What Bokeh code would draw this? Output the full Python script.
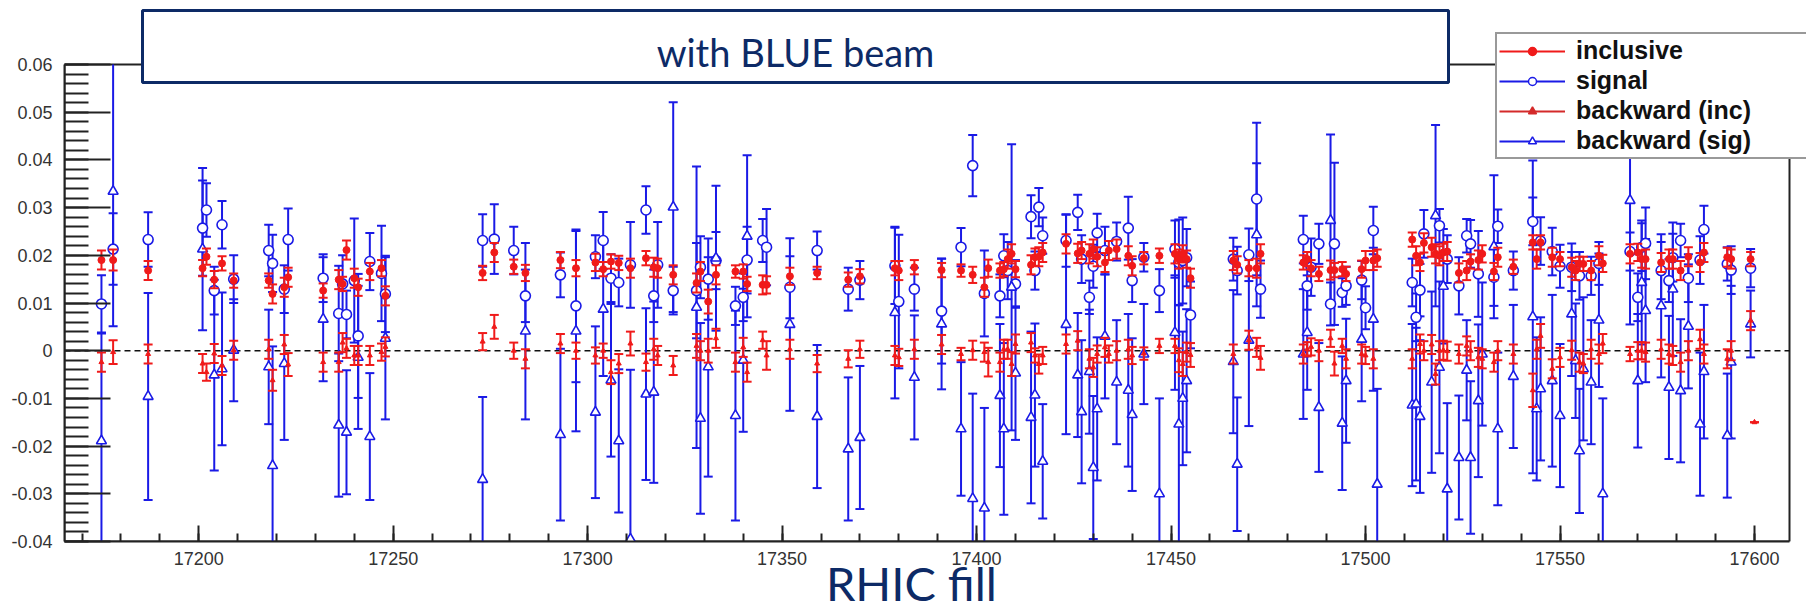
from bokeh.plotting import figure
from bokeh.models import (Range1d, FixedTicker, CustomJSTickFormatter, BoxAnnotation,
                          Label, Legend, LegendItem, ColumnDataSource)
from bokeh.embed import file_html
from bokeh.resources import INLINE

# ---------------- data ----------------
incl_fill = [17175,17178,17187,17201,17202,17204,17206,17209,17218,17219,17222,17223,17232,17236,17237,17238,17240,17241,17244,17247,
             17248,17273,17276,17281,17284,17293,17297,17302,17304,17306,17308,17311,17315,17317,17318,17322,17328,17329,17331,17333,
             17338,17340,17341,17345,17346,17352,17359,17367,17370,17379,17380,17384,17391,17396,17399,17402,17403,17406,17407,17408,
             17409,17410,17414,17415,17416,17417,17423,17426,17427,17429,17430,17431,17433,17434,17436,17439,17440,17443,17447,17451,
             17452,17453,17454,17455,17466,17467,17470,17472,17473,17484,17485,17486,17488,17491,17492,17494,17495,17499,17500,17502,
             17503,17512,17513,17514,17515,17517,17518,17519,17520,17521,17524,17526,17527,17529,17530,17533,17534,17538,17543,17544,
             17545,17548,17550,17553,17554,17555,17556,17558,17560,17561,17568,17570,17571,17572,17576,17578,17579,17581,17583,17586,
             17587,17593,17594,17599]
incl_val = [.0190,.0190,.0168,.0173,.0197,.0149,.0183,.0147,.0147,.0119,.0133,.0154,.0126,.0149,.0140,.0211,.0152,.0133,.0166,.0173,
            .0115,.0163,.0206,.0176,.0163,.0190,.0173,.0185,.0171,.0187,.0184,.0173,.0194,.0175,.0173,.0159,.0142,.0166,.0103,.0159,
            .0166,.0166,.0140,.0138,.0138,.0156,.0163,.0149,.0156,.0173,.0168,.0175,.0169,.0168,.0159,.0133,.0173,.0168,.0171,.0192,
            .0203,.0171,.0180,.0196,.0197,.0206,.0224,.0204,.0210,.0203,.0213,.0197,.0185,.0210,.0213,.0199,.0178,.0194,.0199,.0203,
            .0192,.0203,.0192,.0152,.0189,.0180,.0173,.0173,.0203,.0185,.0192,.0173,.0161,.0169,.0169,.0171,.0161,.0171,.0189,.0189,
            .0194,.0233,.0199,.0185,.0226,.0217,.0203,.0199,.0206,.0208,.0163,.0168,.0187,.0190,.0203,.0166,.0196,.0176,.0227,.0192,
            .0227,.0196,.0192,.0175,.0168,.0182,.0182,.0168,.0199,.0183,.0203,.0206,.0192,.0192,.0185,.0192,.0192,.0168,.0197,.0185,
            .0206,.0196,.0192,.0192]
incl_err = [.0020,.0022,.0020,.0017,.0017,.0018,.0015,.0015,.0015,.0020,.0020,.0020,.0015,.0020,.0015,.0020,.0020,.0018,.0018,.0017,
            .0020,.0015,.0020,.0015,.0017,.0017,.0017,.0018,.0015,.0015,.0015,.0020,.0015,.0020,.0020,.0020,.0020,.0020,.0025,.0020,
            .0013,.0015,.0015,.0020,.0018,.0018,.0013,.0015,.0015,.0015,.0020,.0015,.0015,.0013,.0017,.0020,.0018,.0015,.0015,.0020,
            .0020,.0017,.0020,.0018,.0020,.0020,.0020,.0020,.0018,.0020,.0020,.0020,.0020,.0020,.0020,.0020,.0020,.0013,.0015,.0020,
            .0020,.0018,.0018,.0020,.0020,.0018,.0017,.0020,.0020,.0015,.0015,.0017,.0015,.0020,.0015,.0015,.0015,.0018,.0020,.0020,
            .0018,.0015,.0020,.0018,.0020,.0020,.0020,.0020,.0018,.0020,.0020,.0020,.0015,.0020,.0018,.0018,.0020,.0015,.0015,.0020,
            .0015,.0020,.0015,.0020,.0020,.0015,.0015,.0020,.0020,.0018,.0020,.0018,.0018,.0020,.0020,.0020,.0020,.0020,.0020,.0020,
            .0020,.0020,.0020,.0015]

sig_fill = [17175,17178,17187,17201,17202,17204,17206,17209,17218,17219,17222,17223,17232,17236,17237,17238,17240,17241,17244,17247,
            17248,17273,17276,17281,17284,17293,17297,17302,17304,17306,17308,17311,17315,17317,17318,17322,17328,17329,17331,17333,
            17338,17340,17341,17345,17346,17352,17359,17367,17370,17379,17380,17384,17391,17396,17399,17402,17406,17407,17408,17410,
            17414,17415,17416,17417,17423,17426,17427,17429,17430,17431,17433,17436,17439,17440,17443,17447,17451,17452,17453,17454,
            17455,17466,17467,17470,17472,17473,17484,17485,17486,17488,17491,17492,17494,17495,17499,17500,17502,17512,17513,17514,
            17515,17519,17521,17524,17526,17527,17529,17533,17534,17538,17543,17545,17548,17550,17553,17555,17558,17560,17568,17570,
            17571,17572,17576,17578,17579,17581,17583,17586,17587,17593,17594,17599]
sig_val = [.0098,.0213,.0233,.0257,.0295,.0126,.0264,.0150,.0210,.0183,.0129,.0233,.0152,.0078,.0140,.0076,.0147,.0031,.0187,.0162,
           .0119,.0231,.0234,.0210,.0115,.0159,.0094,.0197,.0231,.0152,.0143,.0180,.0295,.0115,.0180,.0126,.0126,.0175,.0150,.0189,
           .0094,.0112,.0190,.0231,.0217,.0133,.0210,.0129,.0148,.0178,.0103,.0129,.0083,.0217,.0388,.0120,.0115,.0199,.0168,.0140,
           .0281,.0168,.0301,.0241,.0231,.0290,.0192,.0112,.0177,.0247,.0210,.0229,.0257,.0147,.0196,.0126,.0213,.0185,.0189,.0195,
           .0075,.0192,.0168,.0201,.0318,.0129,.0233,.0136,.0175,.0224,.0098,.0224,.0122,.0136,.0148,.0090,.0252,.0143,.0070,.0127,
           .0245,.0262,.0192,.0136,.0241,.0224,.0161,.0154,.0261,.0168,.0271,.0230,.0208,.0177,.0175,.0157,.0157,.0183,.0208,.0112,
           .0217,.0225,.0168,.0147,.0195,.0231,.0152,.0190,.0254,.0182,.0169,.0173]
sig_err = [.0060,.0075,.0057,.0100,.0056,.0050,.0050,.0050,.0054,.0060,.0050,.0065,.0050,.0100,.0060,.0050,.0130,.0130,.0060,.0100,
           .0080,.0055,.0073,.0050,.0055,.0047,.0160,.0045,.0060,.0050,.0050,.0090,.0050,.0055,.0090,.0050,.0100,.0065,.0085,.0060,
           .0040,.0050,.0070,.0045,.0080,.0065,.0040,.0045,.0040,.0080,.0140,.0045,.0110,.0040,.0064,.0090,.0045,.0045,.0060,.0050,
           .0045,.0040,.0040,.0038,.0055,.0037,.0050,.0035,.0045,.0040,.0050,.0040,.0066,.0045,.0030,.0045,.0060,.0090,.0090,.0060,
           .0070,.0045,.0050,.0055,.0160,.0060,.0050,.0050,.0060,.0042,.0045,.0170,.0030,.0040,.0040,.0045,.0050,.0050,.0050,.0055,
           .0050,.0035,.0050,.0060,.0035,.0050,.0090,.0060,.0035,.0040,.0050,.0050,.0050,.0045,.0050,.0050,.0040,.0045,.0040,.0050,
           .0050,.0075,.0060,.0045,.0050,.0035,.0050,.0050,.0050,.0035,.0050,.0040]

binc_fill = [17175,17178,17187,17201,17202,17204,17206,17209,17218,17219,17222,17223,17232,17236,17237,17238,17240,17241,17244,17247,
             17248,17273,17276,17281,17284,17293,17297,17302,17304,17306,17308,17311,17315,17317,17318,17322,17328,17329,17331,17333,
             17338,17340,17341,17345,17346,17352,17359,17367,17370,17379,17380,17384,17391,17396,17399,17402,17403,17406,17407,17408,
             17409,17410,17414,17415,17416,17417,17423,17426,17429,17430,17431,17433,17434,17436,17439,17440,17443,17447,17451,17452,
             17453,17454,17455,17466,17470,17472,17473,17484,17485,17486,17488,17491,17492,17494,17495,17499,17500,17502,17512,17514,
             17515,17517,17518,17519,17520,17521,17524,17526,17527,17529,17530,17533,17534,17538,17543,17544,17545,17548,17550,17553,
             17555,17556,17558,17560,17561,17568,17570,17571,17572,17576,17578,17579,17581,17583,17586,17587,17593,17594,17599,17600]
binc_val = [-.0024,-.0003,-.0007,-.0027,-.0045,-.0006,-.0031,.0001,.0003,-.0062,.0013,-.0029,-.0024,-.0024,.0017,.0005,-.0010,-.0010,-.0010,-.0003,
            .0008,.0019,.0050,.0000,-.0017,.0015,.0000,-.0010,.0000,-.0045,-.0027,.0015,-.0024,.0003,-.0010,-.0031,.0010,.0000,.0000,.0026,
            -.0024,.0007,-.0045,.0022,-.0010,.0003,-.0027,-.0017,.0003,-.0010,-.0014,.0003,.0013,-.0007,.0001,-.0003,-.0024,-.0024,.0003,.0003,
            -.0028,.0014,.0017,-.0010,-.0028,-.0010,.0014,.0021,-.0017,-.0035,-.0007,.0007,-.0007,.0000,.0003,-.0010,-.0006,.0010,.0010,-.0020,
            -.0028,-.0003,-.0009,-.0007,.0022,.0007,-.0015,-.0007,.0003,.0008,.0000,.0026,-.0027,.0010,-.0017,-.0007,-.0010,-.0017,-.0017,.0014,
            .0000,.0013,-.0049,.0000,.0001,-.0001,-.0007,.0010,.0000,-.0014,-.0017,-.0024,.0000,-.0007,-.0083,.0003,.0031,-.0038,-.0014,.0001,
            -.0024,-.0027,.0003,-.0007,.0015,-.0007,.0000,.0000,-.0003,.0003,-.0007,-.0010,-.0024,.0000,.0024,-.0007,-.0017,.0000,.0063,-.0150]
binc_err = [.0020,.0025,.0020,.0020,.0018,.0020,.0020,.0020,.0020,.0022,.0020,.0024,.0020,.0020,.0020,.0020,.0020,.0020,.0020,.0018,
            .0020,.0018,.0025,.0017,.0020,.0020,.0017,.0017,.0015,.0025,.0020,.0025,.0018,.0022,.0020,.0020,.0025,.0020,.0025,.0020,
            .0020,.0020,.0020,.0018,.0030,.0020,.0018,.0018,.0018,.0020,.0018,.0020,.0020,.0013,.0020,.0020,.0030,.0020,.0020,.0020,
            .0025,.0020,.0020,.0015,.0020,.0018,.0020,.0020,.0020,.0020,.0018,.0020,.0018,.0020,.0020,.0018,.0013,.0015,.0015,.0025,
            .0025,.0020,.0025,.0020,.0020,.0020,.0025,.0020,.0015,.0018,.0022,.0018,.0025,.0015,.0020,.0020,.0018,.0020,.0020,.0020,
            .0020,.0020,.0022,.0020,.0020,.0020,.0020,.0020,.0020,.0020,.0020,.0020,.0020,.0020,.0035,.0020,.0025,.0020,.0020,.0020,
            .0020,.0020,.0020,.0020,.0020,.0015,.0018,.0018,.0020,.0020,.0020,.0020,.0020,.0020,.0020,.0020,.0020,.0020,.0020,.0000]

bsig_fill = [17175,17178,17187,17201,17204,17206,17209,17218,17219,17222,17232,17236,17238,17241,17244,17248,17273,17284,17293,17297,
             17302,17304,17306,17308,17311,17315,17317,17322,17328,17329,17331,17333,17338,17340,17341,17352,17359,17367,17370,17379,
             17384,17391,17396,17399,17402,17406,17407,17409,17410,17414,17415,17417,17423,17426,17427,17429,17430,17431,17433,17436,
             17439,17440,17443,17447,17451,17452,17453,17454,17466,17467,17470,17472,17484,17485,17488,17491,17494,17495,17499,17502,
             17503,17512,17513,17514,17517,17518,17519,17520,17521,17524,17526,17527,17529,17530,17533,17534,17538,17543,17544,17545,
             17548,17550,17553,17554,17555,17556,17558,17560,17561,17568,17570,17571,17572,17576,17578,17579,17581,17583,17586,17587,
             17593,17594,17599]
bsig_val = [-.0189,.0334,-.0096,.0213,-.0051,-.0038,.0001,-.0034,-.0241,-.0027,.0066,-.0156,-.0171,-.0014,-.0180,.0026,-.0270,.0041,-.0176,.0041,
            -.0129,.0087,-.0062,-.0189,-.0395,-.0091,-.0087,.0301,.0091,-.0142,-.0034,.0194,-.0136,-.0020,.0240,.0055,-.0138,-.0206,-.0182,.0080,
            -.0056,.0056,-.0164,-.0310,-.0330,-.0094,-.0164,.0133,-.0047,-.0140,-.0093,-.0232,.0055,-.0051,-.0128,-.0044,-.0245,-.0122,.0030,-.0066,
            -.0083,-.0134,-.0007,-.0300,.0038,-.0154,-.0100,-.0063,-.0023,-.0238,.0022,.0243,-.0007,.0038,-.0119,.0273,-.0152,-.0063,.0024,.0066,
            -.0280,-.0114,-.0112,-.0138,-.0066,.0283,-.0035,.0135,-.0290,-.0224,-.0041,-.0224,-.0105,-.0007,.0218,-.0164,-.0054,.0071,-.0122,-.0080,
            -.0063,-.0136,.0077,-.0021,-.0210,-.0038,-.0066,.0064,-.0300,.0315,-.0063,.0143,.0084,.0094,-.0077,.0129,-.0084,.0051,-.0154,-.0044,
            -.0178,-.0024,.0056]
bsig_err = [.0225,.0283,.0217,.0170,.0200,.0160,.0107,.0120,.0250,.0160,.0130,.0150,.0130,.0150,.0133,.0170,.0173,.0185,.0180,.0210,
            .0180,.0140,.0160,.0150,.0355,.0180,.0190,.0220,.0295,.0200,.0230,.0152,.0220,.0150,.0170,.0181,.0150,.0150,.0150,.0180,
            .0130,.0137,.0140,.0220,.0210,.0150,.0180,.0300,.0140,.0180,.0150,.0120,.0230,.0130,.0150,.0130,.0150,.0150,.0130,.0130,
            .0160,.0160,.0105,.0200,.0120,.0250,.0140,.0150,.0150,.0140,.0180,.0150,.0136,.0120,.0135,.0180,.0140,.0130,.0130,.0150,
            .0200,.0170,.0160,.0160,.0190,.0190,.0180,.0120,.0180,.0130,.0105,.0160,.0160,.0150,.0150,.0160,.0150,.0328,.0150,.0150,
            .0180,.0150,.0130,.0120,.0130,.0150,.0130,.0140,.0200,.0260,.0140,.0130,.0150,.0150,.0150,.0140,.0150,.0130,.0150,.0140,
            .0130,.0160,.0070]

x_ticks = [17200, 17250, 17300, 17350, 17400, 17450, 17500, 17550, 17600]
y_ticks = [-0.04, -0.03, -0.02, -0.01, 0.0, 0.01, 0.02, 0.03, 0.04, 0.05, 0.06]
series_labels = ["inclusive", "signal", "backward (inc)", "backward (sig)"]

RED = "#f01a1a"
BLUE = "#1a1ae6"
NAVY = "#0d2a66"

# axis extents of the ROOT frame
X_LO, X_HI = 17165.5, 17609.0
Y_LO, Y_HI = -0.04, 0.06

W, H = 1806, 616
L, B = 64, 75                 # left and bottom panels (px); frame reaches canvas top and right
FB = H - B                    # frame bottom (canvas px)
PX_X = (1789 - L) / (X_HI - X_LO)      # px per fill
PX_Y = (FB - 64) / (Y_HI - Y_LO)       # px per unit

p = figure(width=W, height=H,
           x_range=Range1d(X_LO, X_HI + (W - 1789) / PX_X),
           y_range=Range1d(Y_LO, Y_HI + 64 / PX_Y),
           output_backend="svg", toolbar_location=None, title=None,
           min_border_left=L, min_border_right=0, min_border_top=0, min_border_bottom=B)
p.xgrid.visible = False
p.ygrid.visible = False
p.background_fill_color = "white"
p.border_fill_color = "white"
p.outline_line_color = None

# ROOT frame rectangle
p.add_layout(BoxAnnotation(left=X_LO, right=X_HI, bottom=Y_LO, top=Y_HI, fill_alpha=0,
                           line_color="#222222", line_alpha=1.0, line_width=2, level="underlay"))

# axes, ROOT style (ticks inside)
p.xaxis.ticker = FixedTicker(ticks=x_ticks, minor_ticks=list(range(17170, 17610, 10)))
p.yaxis.ticker = FixedTicker(ticks=y_ticks, minor_ticks=[round(-0.04 + 0.002 * i, 4) for i in range(51)])
p.yaxis.formatter = CustomJSTickFormatter(code="return Math.abs(tick) < 1e-9 ? '0' : tick.toFixed(2);")
p.xaxis.bounds = (X_LO, X_HI)
p.yaxis.bounds = (Y_LO, Y_HI)
for ax in (p.xaxis[0], p.yaxis[0]):
    ax.axis_line_color = "#222222"
    ax.axis_line_width = 2
    ax.major_tick_line_color = "#222222"
    ax.minor_tick_line_color = "#222222"
    ax.major_tick_line_width = 2
    ax.minor_tick_line_width = 2
    ax.major_tick_out = 0
    ax.minor_tick_out = 0
    ax.major_label_text_font = "Liberation Sans"
    ax.major_label_text_font_size = "18px"
    ax.major_label_text_color = "#333333"
p.yaxis.major_tick_in = 46
p.yaxis.minor_tick_in = 24
p.yaxis.major_label_standoff = 12
p.xaxis.major_tick_in = 16
p.xaxis.minor_tick_in = 8
p.xaxis.major_label_standoff = 10
# trailing no-break spaces shift the centred caption slightly left, as in the original slide
p.xaxis.axis_label = "RHIC fill" + "\u00a0" * 4
p.xaxis.axis_label_text_font = "Lato"
p.xaxis.axis_label_text_font_size = "47px"
p.xaxis.axis_label_text_font_style = "normal"
p.xaxis.axis_label_text_color = NAVY
p.xaxis.axis_label_standoff = -13

# zero line across the frame
p.line(x=[X_LO, X_HI], y=[0, 0], line_color="#111111", line_dash="6 4", line_width=1.5)


def bars(fill, val, err, color, lw, cap):
    lo = [max(v - e, Y_LO) for v, e in zip(val, err)]
    hi = [min(v + e, Y_HI) for v, e in zip(val, err)]
    cap_lo = [v - e if v - e >= Y_LO else float("nan") for v, e in zip(val, err)]
    cap_hi = [v + e if v + e <= Y_HI else float("nan") for v, e in zip(val, err)]
    src = ColumnDataSource(dict(x=fill, y=val, lo=lo, hi=hi, clo=cap_lo, chi=cap_hi))
    p.segment(x0="x", y0="lo", x1="x", y1="hi", source=src, line_color=color, line_width=lw)
    p.scatter(x="x", y="clo", source=src, marker="dash", size=cap, line_color=color, line_width=lw)
    p.scatter(x="x", y="chi", source=src, marker="dash", size=cap, line_color=color, line_width=lw)
    return src


s_sig = bars(sig_fill, sig_val, sig_err, BLUE, 2, 9)
s_bsig = bars(bsig_fill, bsig_val, bsig_err, BLUE, 2, 9)
p.scatter(x="x", y="y", source=s_sig, marker="circle", size=10, fill_color="white", line_color=BLUE, line_width=1.6)
p.scatter(x="x", y="y", source=s_bsig, marker="triangle", size=10, fill_color="white", line_color=BLUE, line_width=1.6)
s_incl = bars(incl_fill, incl_val, incl_err, RED, 2, 9)
s_binc = bars(binc_fill, binc_val, binc_err, RED, 2, 9)
p.scatter(x="x", y="y", source=s_incl, marker="circle", size=7, fill_color=RED, line_color=RED)
p.scatter(x="x", y="y", source=s_binc, marker="triangle", size=5, fill_color=RED, line_color=RED)

# title box
p.add_layout(BoxAnnotation(left=142 - L, right=1448 - L, top=FB - 10, bottom=FB - 82,
                           left_units="screen", right_units="screen", top_units="screen", bottom_units="screen",
                           fill_color="white", fill_alpha=1.0, line_color=NAVY, line_alpha=1.0, line_width=3))
p.add_layout(Label(x=795 - L, y=FB - 51, x_units="screen", y_units="screen", text="with BLUE beam",
                   text_align="center", text_baseline="middle", text_font="Lato",
                   text_font_size="38px", text_color=NAVY))

# legend (off-range dummy renderers for the glyphs)
items = []
styles = [(RED, "circle", 6, RED), (BLUE, "circle", 7, "white"), ("#d42a2a", "triangle", 5, "#d42a2a"),
          (BLUE, "triangle", 7, "white")]
for lab, (c, m, sz, fc) in zip(series_labels, styles):
    ln = p.line(x=[X_LO - 50, X_LO - 40], y=[0, 0], line_color=c, line_width=2)
    mk = p.scatter(x=[X_LO - 45], y=[0], marker=m, size=sz, line_color=c, fill_color=fc, line_width=1.5)
    items.append(LegendItem(label=lab, renderers=[ln, mk]))
legend = Legend(items=items, location=(1495 - L, FB - 159), orientation="vertical",
                label_text_font="Liberation Sans", label_text_font_style="bold", label_text_font_size="25px",
                label_text_color="#111111", label_height=28, label_width=300, glyph_width=66, glyph_height=20,
                label_standoff=11, spacing=1, padding=2, margin=0,
                border_line_color="#333333", border_line_width=2, background_fill_color="white",
                background_fill_alpha=1.0)
p.add_layout(legend)

open("out.html", "w").write(file_html(p, INLINE))
